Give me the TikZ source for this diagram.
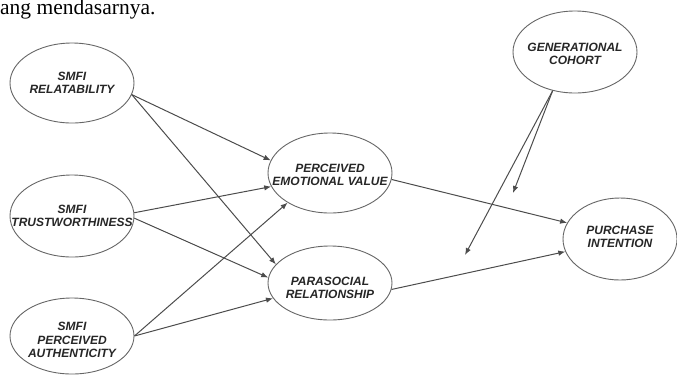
\documentclass[tikz,border=0pt]{standalone}
\usepackage{fontspec}
\setmainfont{Liberation Sans}
\newfontfamily\serifx{Liberation Serif}
\usetikzlibrary{shapes.geometric,arrows.meta}
\begin{document}
\begin{tikzpicture}[x=1pt,y=-1pt,
  var/.style 2 args={ellipse, draw=black!60, line width=0.9pt, fill=white, inner sep=0pt,
    minimum width=#1pt, minimum height=#2pt},
  lbl/.style={align=center, inner sep=0pt, text=black!85,
    font=\fontsize{12}{13.5}\selectfont\bfseries\itshape},
  conn/.style={draw=black!70, line width=1pt, -{Latex[length=7pt,width=5.5pt]}}]
\useasboundingbox (0,0) rectangle (677,376);
\node[anchor=base west, inner sep=0pt, font=\serifx\fontsize{21.5}{24}\selectfont] (top) at (0,14) {ang mendasarnya.};

\node[var={124}{80}, label={[lbl]center:{SMFI\\RELATABILITY}}] (rel) at (72,83) {};
\node[var={124}{82}, label={[lbl]center:{SMFI\\TRUSTWORTHINESS}}] (tru) at (72,216) {};
\node[var={124}{76}, label={[lbl,yshift=-4pt]center:{SMFI\\PERCEIVED\\AUTHENTICITY}}] (aut) at (72,336) {};
\node[var={124}{80}, label={[lbl,yshift=-2pt]center:{PERCEIVED\\EMOTIONAL VALUE}}] (pev) at (330,173) {};
\node[var={124}{74}, label={[lbl,yshift=-5pt]center:{PARASOCIAL\\RELATIONSHIP}}] (psr) at (330,283) {};
\node[var={124}{82}, label={[lbl,yshift=-2pt]center:{GENERATIONAL\\COHORT}}] (gen) at (575,52) {};
\node[var={114}{82}, label={[lbl,yshift=2pt]center:{PURCHASE\\INTENTION}}] (pi) at (620,239) {};

\coordinate (g1) at (513,193);
\coordinate (g2) at (465,255);

\draw[conn] (rel.-11) -- (pev.168);
\draw[conn] (rel.-11) -- (psr.161);
\draw[conn] (tru.3) -- (pev.-167);
\draw[conn] (tru.-2) -- (psr.175);
\draw[conn] (aut.0) -- (pev.-145);
\draw[conn] (aut.0) -- (psr.-165);
\draw[conn] (pev.-6) -- (pi.163);
\draw[conn] (psr.-6) -- (pi.-167);
\draw[conn] (gen.-120) -- (g1);
\draw[conn] (gen.-120) -- (g2);
\end{tikzpicture}
\end{document}
